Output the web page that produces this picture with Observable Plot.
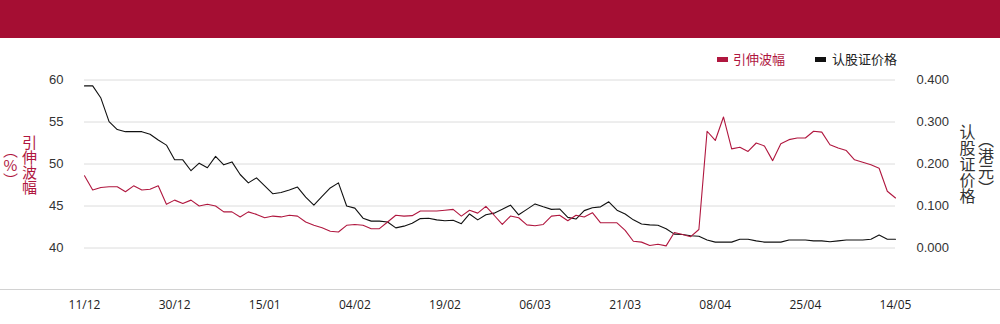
<!DOCTYPE html>
<html>
<head>
<meta charset="utf-8">
<script src="https://cdn.jsdelivr.net/npm/d3@7"></script>
<script src="https://cdn.jsdelivr.net/npm/@observablehq/plot@0.6"></script>
<style>
  html, body { margin: 0; padding: 0; background: #fff; }
  #wrap { position: relative; width: 1000px; height: 324px; overflow: hidden; font-family: "Noto Sans CJK SC", "Noto Sans", sans-serif; }
  #band { position: absolute; left: 0; top: 0; width: 1000px; height: 38px; background: #a50e33; }
  #chart { position: absolute; left: 0; top: 38px; }
  #xline { position: absolute; left: 0; top: 289px; width: 1000px; height: 1px; background: #d2d2d2; }
  .lg { position: absolute; font-size: 13px; line-height: 16px; top: 51px; white-space: nowrap; }
  .sw { position: absolute; width: 11px; height: 5px; top: 57px; }
  .ytitle { position: absolute; white-space: normal; }
</style>
</head>
<body>
<div id="wrap">
  <div id="band"></div>
  <div id="chart"></div>
  <div id="xline"></div>
  <div class="sw" id="sw1" style="left:717px;"></div>
  <div class="lg" id="lg1" style="left:733px;"></div>
  <div class="sw" id="sw2" style="left:815px;"></div>
  <div class="lg" id="lg2" style="left:832px;"></div>
  <div class="ytitle" id="ytl" style="left:1px; top:134px; height:62px; writing-mode:vertical-rl; text-orientation:upright; font-size:15px; line-height:19px; text-align:center;"></div>
  <div class="ytitle" id="ytr" style="left:958px; top:122px; height:84px; writing-mode:vertical-lr; font-size:16px; line-height:18.5px; text-align:center; color:#333;"></div>
</div>
<script>
// ---- data ----
const seriesNames = ["引伸波幅", "认股证价格"];
const seriesColors = ["#b0173f", "#111111"];
const leftTitle = "引伸波幅（%）";
const rightTitle = "认股证价格（港元）";

// x-axis tick labels (dd/mm) and the trading-day positions they label
const tickLabels = ["11/12", "30/12", "15/01", "04/02", "19/02", "06/03", "21/03", "08/04", "25/04", "14/05"];
const tickIndex = [0, 11, 22, 33, 44, 55, 66, 77, 88, 99];

// implied volatility (%) per trading day
const volatility = [
  48.6, 46.9, 47.2, 47.3, 47.3, 46.7, 47.4, 46.9, 47.0, 47.4,
  45.2, 45.7, 45.3, 45.7, 45.0, 45.2, 45.0, 44.3, 44.3, 43.7,
  44.3, 44.0, 43.6, 43.8, 43.7, 43.9, 43.8, 43.1, 42.7, 42.4,
  42.0, 41.9, 42.7, 42.8, 42.7, 42.3, 42.3, 43.1, 43.9, 43.8,
  43.85, 44.4, 44.4, 44.4, 44.5, 44.6, 43.8, 44.5, 44.15, 44.95,
  43.9, 42.8, 43.8, 43.6, 42.75, 42.65, 42.8, 43.8, 43.9, 43.25,
  43.9, 43.7, 44.2, 43.0, 43.0, 43.0, 42.1, 40.8, 40.7, 40.3,
  40.45, 40.25, 41.85, 41.6, 41.35, 42.2, 53.9, 52.8, 55.6, 51.8,
  52.0, 51.5, 52.5, 52.15, 50.4, 52.4, 52.9, 53.1, 53.1, 53.9,
  53.8, 52.3, 51.9, 51.6, 50.5, 50.2, 49.9, 49.5, 46.75, 45.95
];

// warrant price (HK$) per trading day
const warrantPrice = [
  0.386, 0.386, 0.357, 0.301, 0.282, 0.277, 0.277, 0.277, 0.271, 0.257,
  0.245, 0.210, 0.210, 0.184, 0.202, 0.191, 0.218, 0.198, 0.205, 0.175,
  0.155, 0.167, 0.148, 0.129, 0.132, 0.138, 0.145, 0.121, 0.102, 0.123,
  0.143, 0.155, 0.100, 0.095, 0.071, 0.064, 0.064, 0.062, 0.048, 0.052,
  0.059, 0.070, 0.071, 0.067, 0.065, 0.066, 0.058, 0.081, 0.067, 0.079,
  0.083, 0.092, 0.102, 0.079, 0.092, 0.105, 0.098, 0.092, 0.093, 0.073,
  0.069, 0.089, 0.096, 0.098, 0.110, 0.090, 0.081, 0.067, 0.057, 0.055,
  0.054, 0.046, 0.033, 0.032, 0.029, 0.028, 0.019, 0.014, 0.014, 0.014,
  0.021, 0.021, 0.017, 0.014, 0.014, 0.014, 0.019, 0.019, 0.019, 0.017,
  0.017, 0.015, 0.017, 0.019, 0.019, 0.019, 0.021, 0.031, 0.021, 0.021
];

const leftTicks = [40, 45, 50, 55, 60];
const leftDomain = [40, 60];
const rightDomain = [0, 0.4];

// ---- build ----
const toLeft = p => leftDomain[0] + (p - rightDomain[0]) / (rightDomain[1] - rightDomain[0]) * (leftDomain[1] - leftDomain[0]);
const toRight = v => rightDomain[0] + (v - leftDomain[0]) / (leftDomain[1] - leftDomain[0]) * (rightDomain[1] - rightDomain[0]);

const rows = volatility.map((v, i) => ({ i, vol: v, price: warrantPrice[i] }));

const chart = Plot.plot({
  width: 1000,
  height: 286,
  marginLeft: 84,
  marginRight: 105,
  marginTop: 41.5,
  marginBottom: 76.5,
  style: { background: "transparent", color: "#333", fontFamily: "'Liberation Sans', Arial, sans-serif", fontSize: "13px" },
  x: { type: "linear", domain: [0, volatility.length - 1] },
  y: { domain: leftDomain },
  marks: [
    Plot.gridY({ ticks: leftTicks, stroke: "#dcdcdc", strokeOpacity: 1, strokeWidth: 1 }),
    Plot.axisY({ ticks: leftTicks, anchor: "left", tickSize: 0, tickPadding: 21, label: null, fontSize: 13, fill: "#333" }),
    Plot.axisY({ ticks: leftTicks, anchor: "right", tickSize: 0, tickPadding: 21, label: null, fontSize: 13, fill: "#333",
                 tickFormat: v => toRight(v).toFixed(3) }),
    Plot.axisX({ ticks: tickIndex, anchor: "bottom", tickSize: 0, tickPadding: 52, label: null,
                 fontFamily: "'Open Sans', sans-serif", fontSize: 12, fill: "#222",
                 tickFormat: i => tickLabels[tickIndex.indexOf(i)] }),
    Plot.lineY(rows, { x: "i", y: d => toLeft(d.price), stroke: seriesColors[1], strokeWidth: 1.1 }),
    Plot.lineY(rows, { x: "i", y: "vol", stroke: seriesColors[0], strokeWidth: 1.1 })
  ]
});
document.getElementById("chart").appendChild(chart);

// legend & axis titles
document.getElementById("sw1").style.background = seriesColors[0];
document.getElementById("sw2").style.background = seriesColors[1];
const lg1 = document.getElementById("lg1");
lg1.textContent = seriesNames[0];
lg1.style.color = seriesColors[0];
const lg2 = document.getElementById("lg2");
lg2.textContent = seriesNames[1];
lg2.style.color = "#222";
const ytl = document.getElementById("ytl");
ytl.textContent = leftTitle;
ytl.style.color = seriesColors[0];
document.getElementById("ytr").textContent = rightTitle;
</script>
</body>
</html>
